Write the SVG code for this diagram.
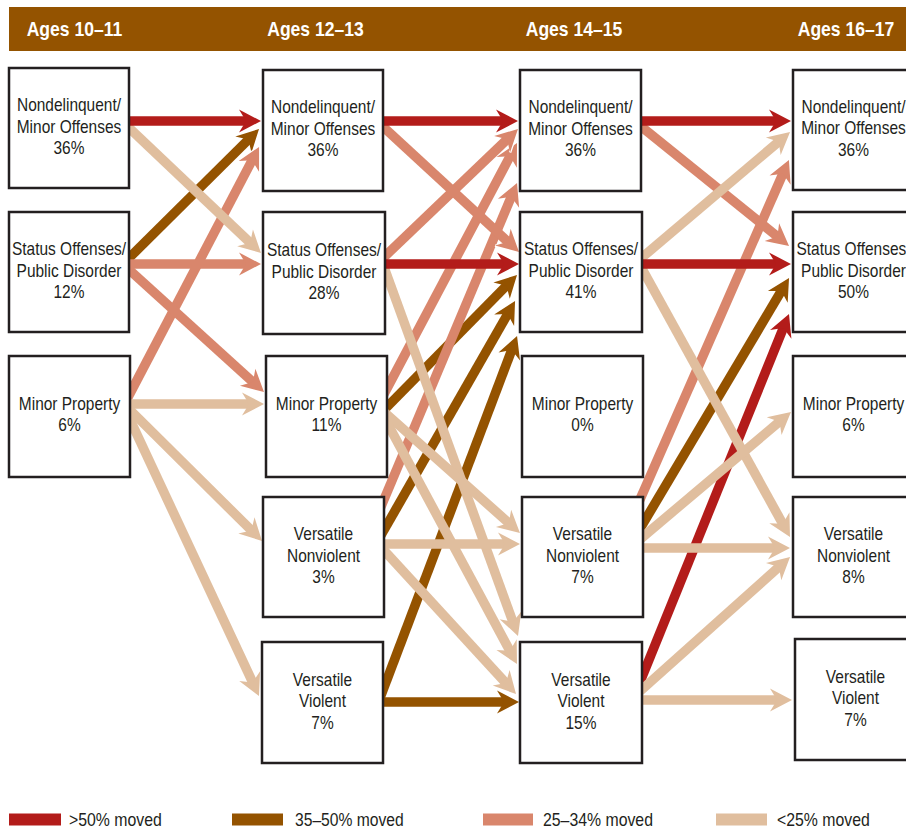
<svg xmlns="http://www.w3.org/2000/svg" width="906" height="831" viewBox="0 0 906 831">
<style>
.box{fill:#fff;stroke:#231f20;stroke-width:2.5}
.lbl{font-family:"Liberation Sans",Arial,sans-serif;font-size:18px;fill:#231f20;text-anchor:middle}
.hdr{font-family:"Liberation Sans",Arial,sans-serif;font-size:19.5px;font-weight:bold;fill:#fff;text-anchor:middle}
.leg{font-family:"Liberation Sans",Arial,sans-serif;font-size:18px;fill:#231f20}
.c{fill:none;stroke-width:9.5;stroke-linecap:butt}
.r{stroke:#b31c1a}
.b{stroke:#945300}
.s{stroke:#d9866c}
.t{stroke:#e0be9e}
</style>
<defs>
<marker id="mr" markerUnits="userSpaceOnUse" markerWidth="40" markerHeight="40" refX="0" refY="0" orient="auto" overflow="visible"><path d="M-10,-11.5 L12,0 L-10,11.5" fill="none" stroke="#fff" stroke-width="2.5"/><path d="M12,0 L-10,-11.5 L-3,0 L-10,11.5 Z" fill="#b31c1a"/></marker>
<marker id="mb" markerUnits="userSpaceOnUse" markerWidth="40" markerHeight="40" refX="0" refY="0" orient="auto" overflow="visible"><path d="M-10,-11.5 L12,0 L-10,11.5" fill="none" stroke="#fff" stroke-width="2.5"/><path d="M12,0 L-10,-11.5 L-3,0 L-10,11.5 Z" fill="#945300"/></marker>
<marker id="ms" markerUnits="userSpaceOnUse" markerWidth="40" markerHeight="40" refX="0" refY="0" orient="auto" overflow="visible"><path d="M-10,-11.5 L12,0 L-10,11.5" fill="none" stroke="#fff" stroke-width="2.5"/><path d="M12,0 L-10,-11.5 L-3,0 L-10,11.5 Z" fill="#d9866c"/></marker>
<marker id="mt" markerUnits="userSpaceOnUse" markerWidth="40" markerHeight="40" refX="0" refY="0" orient="auto" overflow="visible"><path d="M-10,-11.5 L12,0 L-10,11.5" fill="none" stroke="#fff" stroke-width="2.5"/><path d="M12,0 L-10,-11.5 L-3,0 L-10,11.5 Z" fill="#e0be9e"/></marker>
</defs>
<rect width="906" height="831" fill="#fff"/>
<g id="header">
<rect x="9" y="7" width="897" height="44" fill="#945300"/>
<text class="hdr" transform="translate(74.5,36) scale(0.9,1)">Ages 10–11</text>
<text class="hdr" transform="translate(315.5,36) scale(0.9,1)">Ages 12–13</text>
<text class="hdr" transform="translate(574,36) scale(0.9,1)">Ages 14–15</text>
<text class="hdr" transform="translate(846,36) scale(0.9,1)">Ages 16–17</text>
</g>
<g id="connectors">
<!-- 10-11 to 12-13 -->
<line class="c b" x1="125" y1="262" x2="250.5" y2="137.5" marker-end="url(#mb)"/>
<line class="c s" x1="125" y1="403" x2="253.5" y2="157.6" marker-end="url(#ms)"/>
<line class="c s" x1="125" y1="266" x2="255.1" y2="384" marker-end="url(#ms)"/>
<line class="c s" x1="125" y1="264" x2="249" y2="264" marker-end="url(#ms)"/>
<line class="c t" x1="125" y1="124" x2="252.3" y2="244.7" marker-end="url(#mt)"/>
<line class="c r" x1="125" y1="121" x2="249" y2="121" marker-end="url(#mr)"/>
<line class="c t" x1="125" y1="404" x2="252" y2="404" marker-end="url(#mt)"/>
<line class="c t" x1="125" y1="405" x2="253.5" y2="532.5" marker-end="url(#mt)"/>
<line class="c t" x1="126" y1="411" x2="253.9" y2="685.1" marker-end="url(#mt)"/>
<!-- 12-13 to 14-15 -->
<line class="c b" x1="380" y1="698" x2="512.8" y2="347.2" marker-end="url(#mb)"/>
<line class="c b" x1="380" y1="537" x2="509.1" y2="311.5" marker-end="url(#mb)"/>
<line class="c b" x1="383" y1="411" x2="508.6" y2="283.5" marker-end="url(#mb)"/>
<line class="c s" x1="380" y1="509" x2="512.4" y2="194.1" marker-end="url(#ms)"/>
<line class="c s" x1="383" y1="396" x2="511.4" y2="153.6" marker-end="url(#ms)"/>
<line class="c s" x1="381" y1="260" x2="509.3" y2="137.3" marker-end="url(#ms)"/>
<line class="c s" x1="379" y1="123" x2="510.2" y2="243.9" marker-end="url(#ms)"/>
<line class="c t" x1="384" y1="267" x2="513.9" y2="624.7" marker-end="url(#mt)"/>
<line class="c t" x1="383" y1="411" x2="511" y2="525" marker-end="url(#mt)"/>
<line class="c t" x1="384" y1="417" x2="511.3" y2="653.4" marker-end="url(#mt)"/>
<line class="c t" x1="380" y1="544" x2="508" y2="544" marker-end="url(#mt)"/>
<line class="c t" x1="380" y1="546" x2="507.9" y2="685.2" marker-end="url(#mt)"/>
<line class="c r" x1="379" y1="121" x2="506" y2="121" marker-end="url(#mr)"/>
<line class="c r" x1="381" y1="264" x2="507" y2="264" marker-end="url(#mr)"/>
<line class="c b" x1="379" y1="702" x2="507" y2="702" marker-end="url(#mb)"/>
<!-- 14-15 to 16-17 -->
<line class="c s" x1="638" y1="504" x2="784.1" y2="171" marker-end="url(#ms)"/>
<line class="c b" x1="638" y1="532" x2="782.9" y2="288.3" marker-end="url(#mb)"/>
<line class="c r" x1="638" y1="687" x2="784.5" y2="325.1" marker-end="url(#mr)"/>
<line class="c s" x1="638" y1="124" x2="779.7" y2="238.4" marker-end="url(#ms)"/>
<line class="c t" x1="639" y1="260" x2="780.9" y2="139.8" marker-end="url(#mt)"/>
<line class="c t" x1="640" y1="265" x2="784.2" y2="526.5" marker-end="url(#mt)"/>
<line class="c t" x1="638" y1="541" x2="781.8" y2="419.7" marker-end="url(#mt)"/>
<line class="c t" x1="638" y1="548" x2="778" y2="548" marker-end="url(#mt)"/>
<line class="c t" x1="638" y1="693" x2="781.1" y2="565" marker-end="url(#mt)"/>
<line class="c t" x1="638" y1="700" x2="780" y2="700" marker-end="url(#mt)"/>
<line class="c r" x1="637" y1="121" x2="779" y2="121" marker-end="url(#mr)"/>
<line class="c r" x1="638" y1="264" x2="779" y2="264" marker-end="url(#mr)"/>
</g>
<g id="nodes">
<g id="n10-nondel"><rect class="box" x="9" y="68" width="120" height="120"/><text class="lbl" transform="translate(69,0) scale(0.86,1)"><tspan x="0" y="111.5">Nondelinquent/</tspan><tspan x="0" y="133">Minor Offenses</tspan><tspan x="0" y="154.5">36%</tspan></text></g>
<g id="n10-status"><rect class="box" x="9" y="212" width="120" height="120"/><text class="lbl" transform="translate(69,0) scale(0.86,1)"><tspan x="0" y="255.5">Status Offenses/</tspan><tspan x="0" y="277">Public Disorder</tspan><tspan x="0" y="298.5">12%</tspan></text></g>
<g id="n10-minprop"><rect class="box" x="9" y="356" width="121" height="121"/><text class="lbl" transform="translate(69.5,0) scale(0.86,1)"><tspan x="0" y="410.5">Minor Property</tspan><tspan x="0" y="431.5">6%</tspan></text></g>

<g id="n12-nondel"><rect class="box" x="263" y="70" width="120" height="121"/><text class="lbl" transform="translate(323,0) scale(0.86,1)"><tspan x="0" y="113.5">Nondelinquent/</tspan><tspan x="0" y="135">Minor Offenses</tspan><tspan x="0" y="156.5">36%</tspan></text></g>
<g id="n12-status"><rect class="box" x="263" y="212" width="122" height="122"/><text class="lbl" transform="translate(324,0) scale(0.86,1)"><tspan x="0" y="256.5">Status Offenses/</tspan><tspan x="0" y="278">Public Disorder</tspan><tspan x="0" y="299.5">28%</tspan></text></g>
<g id="n12-minprop"><rect class="box" x="266" y="356" width="121" height="121"/><text class="lbl" transform="translate(326.5,0) scale(0.86,1)"><tspan x="0" y="410.5">Minor Property</tspan><tspan x="0" y="431.5">11%</tspan></text></g>
<g id="n12-vnv"><rect class="box" x="263" y="497" width="121" height="120"/><text class="lbl" transform="translate(323.5,0) scale(0.86,1)"><tspan x="0" y="540.5">Versatile</tspan><tspan x="0" y="562">Nonviolent</tspan><tspan x="0" y="583.5">3%</tspan></text></g>
<g id="n12-vv"><rect class="box" x="262" y="642" width="121" height="121"/><text class="lbl" transform="translate(322.5,0) scale(0.86,1)"><tspan x="0" y="686">Versatile</tspan><tspan x="0" y="707.5">Violent</tspan><tspan x="0" y="729">7%</tspan></text></g>

<g id="n14-nondel"><rect class="box" x="520" y="70" width="121" height="121"/><text class="lbl" transform="translate(580.5,0) scale(0.86,1)"><tspan x="0" y="113.5">Nondelinquent/</tspan><tspan x="0" y="135">Minor Offenses</tspan><tspan x="0" y="156.5">36%</tspan></text></g>
<g id="n14-status"><rect class="box" x="520" y="212" width="122" height="120"/><text class="lbl" transform="translate(581,0) scale(0.86,1)"><tspan x="0" y="255.5">Status Offenses/</tspan><tspan x="0" y="277">Public Disorder</tspan><tspan x="0" y="298.5">41%</tspan></text></g>
<g id="n14-minprop"><rect class="box" x="522" y="356" width="121" height="121"/><text class="lbl" transform="translate(582.5,0) scale(0.86,1)"><tspan x="0" y="410.5">Minor Property</tspan><tspan x="0" y="431.5">0%</tspan></text></g>
<g id="n14-vnv"><rect class="box" x="522" y="497" width="121" height="120"/><text class="lbl" transform="translate(582.5,0) scale(0.86,1)"><tspan x="0" y="540.5">Versatile</tspan><tspan x="0" y="562">Nonviolent</tspan><tspan x="0" y="583.5">7%</tspan></text></g>
<g id="n14-vv"><rect class="box" x="520" y="642" width="122" height="121"/><text class="lbl" transform="translate(581,0) scale(0.86,1)"><tspan x="0" y="686">Versatile</tspan><tspan x="0" y="707.5">Violent</tspan><tspan x="0" y="729">15%</tspan></text></g>

<g id="n16-nondel"><rect class="box" x="793" y="70" width="121" height="120"/><text class="lbl" transform="translate(853.5,0) scale(0.86,1)"><tspan x="0" y="113">Nondelinquent/</tspan><tspan x="0" y="134.5">Minor Offenses</tspan><tspan x="0" y="156">36%</tspan></text></g>
<g id="n16-status"><rect class="box" x="793" y="212" width="121" height="120"/><text class="lbl" transform="translate(853.5,0) scale(0.86,1)"><tspan x="0" y="255.5">Status Offenses/</tspan><tspan x="0" y="277">Public Disorder</tspan><tspan x="0" y="298.5">50%</tspan></text></g>
<g id="n16-minprop"><rect class="box" x="793" y="356" width="121" height="121"/><text class="lbl" transform="translate(853.5,0) scale(0.86,1)"><tspan x="0" y="410.5">Minor Property</tspan><tspan x="0" y="431.5">6%</tspan></text></g>
<g id="n16-vnv"><rect class="box" x="793" y="497" width="121" height="120"/><text class="lbl" transform="translate(853.5,0) scale(0.86,1)"><tspan x="0" y="540.5">Versatile</tspan><tspan x="0" y="562">Nonviolent</tspan><tspan x="0" y="583.5">8%</tspan></text></g>
<g id="n16-vv"><rect class="box" x="795" y="639" width="121" height="121"/><text class="lbl" transform="translate(855.5,0) scale(0.86,1)"><tspan x="0" y="683">Versatile</tspan><tspan x="0" y="704.5">Violent</tspan><tspan x="0" y="726">7%</tspan></text></g>
</g>
<g id="legend">
<rect x="9" y="813.5" width="52" height="12" fill="#b31c1a"/>
<text class="leg" transform="translate(69,826) scale(0.88,1)">&gt;50% moved</text>
<rect x="232" y="813.5" width="51" height="12" fill="#945300"/>
<text class="leg" transform="translate(295,826) scale(0.87,1)">35–50% moved</text>
<rect x="483" y="813.5" width="50" height="12" fill="#d9866c"/>
<text class="leg" transform="translate(543,826) scale(0.88,1)">25–34% moved</text>
<rect x="716" y="813.5" width="51" height="12" fill="#e0be9e"/>
<text class="leg" transform="translate(777,826) scale(0.88,1)">&lt;25% moved</text>
</g>
</svg>
